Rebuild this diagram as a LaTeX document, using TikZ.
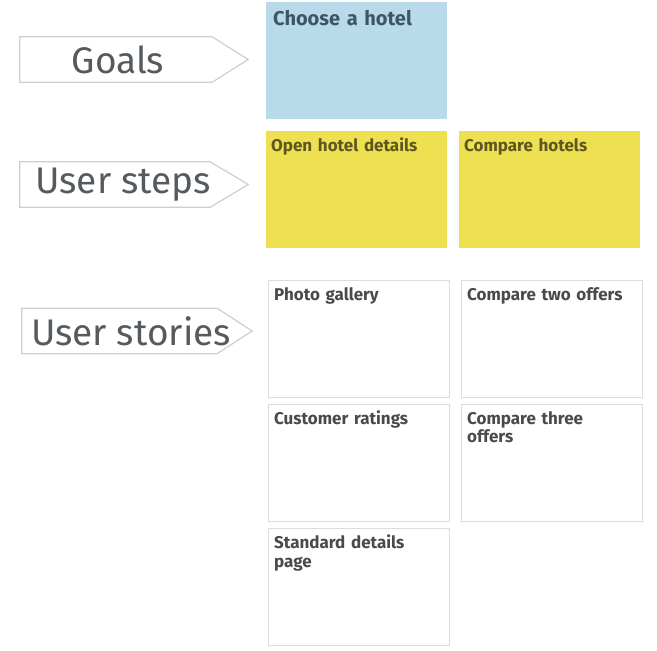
\documentclass[tikz,border=0pt]{standalone}
\usepackage{fontspec}
\setmainfont{Fira Sans}
\usetikzlibrary{calc}
\definecolor{goalblue}{HTML}{B8DAEB}
\definecolor{stepyellow}{HTML}{EDE152}
\definecolor{boxline}{HTML}{DCDCDC}
\definecolor{arrowline}{HTML}{CFCFCF}
\definecolor{labeltext}{HTML}{555A5E}
\definecolor{cardtext}{HTML}{4A4A4A}
\definecolor{bluetext}{HTML}{3D5566}
\definecolor{yellowtext}{HTML}{5E5520}
\tikzset{
  x=1pt, y=-1pt,
  rowlabel/.style={rectangle, inner sep=0pt, minimum height=45pt, text=labeltext, font=\fontsize{37}{40}\selectfont},
  rowarrow/.style={draw=arrowline, line width=1.2pt, fill=white},
  card/.style={rectangle, inner sep=0pt, minimum width=181pt, minimum height=117pt, anchor=north west},
  goalcard/.style={card, fill=goalblue},
  stepcard/.style={card, fill=stepyellow},
  storycard/.style={card, draw=boxline, line width=1.2pt, fill=white},
  cardtitle/.style={anchor=north west, inner sep=0pt, align=left, text width=172pt, font=\bfseries\fontsize{17}{18.5}\selectfont, text=cardtext}
}
\begin{document}
\begin{tikzpicture}
\useasboundingbox (0,0) rectangle (657,651);
% row labels
\node[rowlabel, minimum width=192pt] (goals) at (116,59.5) {};
\draw[rowarrow] (goals.north west) -- (goals.north east) -- ($(goals.east)+(36,0)$) -- (goals.south east) -- (goals.south west) -- cycle;
\node[rowlabel] (goalstxt) at (118,59.5) {Goals};

\node[rowlabel, minimum width=190pt] (steps) at (115,184.5) {};
\draw[rowarrow] (steps.north west) -- (steps.north east) -- ($(steps.east)+(38,0)$) -- (steps.south east) -- (steps.south west) -- cycle;
\node[rowlabel] (stepstxt) at (123,184.5) {User steps};

\node[rowlabel, minimum width=195pt] (stories) at (119.5,331) {};
\draw[rowarrow] (stories.north west) -- (stories.north east) -- ($(stories.east)+(35,0)$) -- (stories.south east) -- (stories.south west) -- cycle;
\node[rowlabel] (storiestxt) at (131,331) {User stories};

% cards
\node[goalcard] (choose) at (266,2) {};
\node[cardtitle, text=bluetext, font=\bfseries\fontsize{20}{22}\selectfont] (choosetxt) at ($(choose.north west)+(7,8)$) {Choose a hotel};

\node[stepcard] (openhotel) at (266,131) {};
\node[cardtitle, text=yellowtext] (openhoteltxt) at ($(openhotel.north west)+(5,7)$) {Open hotel details};

\node[stepcard] (compare) at (459,131) {};
\node[cardtitle, text=yellowtext] (comparetxt) at ($(compare.north west)+(5,7)$) {Compare hotels};

\node[storycard] (photo) at (268,280) {};
\node[cardtitle] (phototxt) at ($(photo.north west)+(6,7)$) {Photo gallery};

\node[storycard] (two) at (461,280) {};
\node[cardtitle] (twotxt) at ($(two.north west)+(6,7)$) {Compare two offers};

\node[storycard] (ratings) at (268,404) {};
\node[cardtitle] (ratingstxt) at ($(ratings.north west)+(6,7)$) {Customer ratings};

\node[storycard] (three) at (461,404) {};
\node[cardtitle] (threetxt) at ($(three.north west)+(6,7)$) {Compare three\\offers};

\node[storycard] (standard) at (268,528) {};
\node[cardtitle] (standardtxt) at ($(standard.north west)+(6,7)$) {Standard details\\page};
\end{tikzpicture}
\end{document}
